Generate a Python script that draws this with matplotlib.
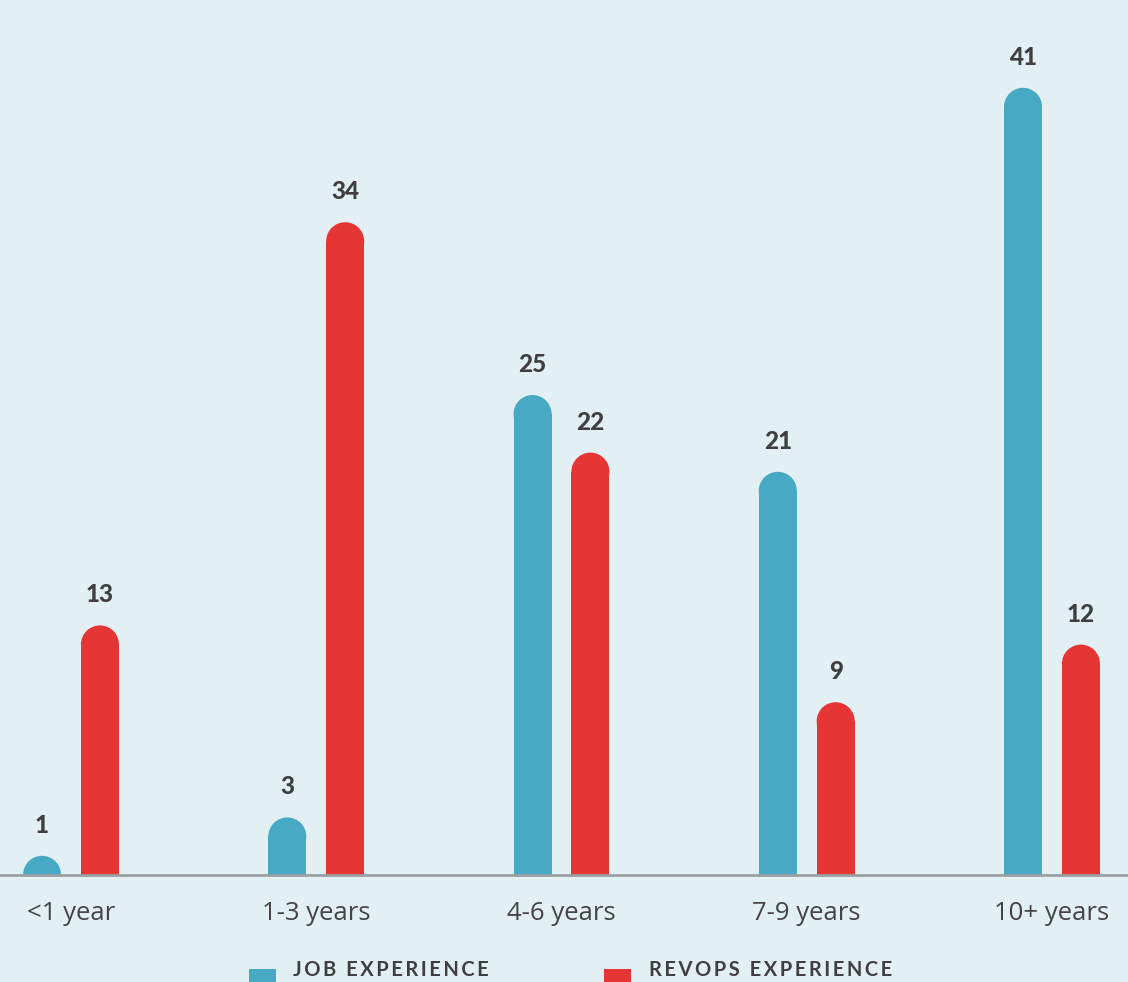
import matplotlib
matplotlib.use('Agg')
import matplotlib.pyplot as plt
from matplotlib.patches import Ellipse, Rectangle
import numpy as np

categories = ['<1 year', '1-3 years', '4-6 years', '7-9 years', '10+ years']
job_exp = [1, 3, 25, 21, 41]
revops_exp = [13, 34, 22, 9, 12]
series_names = ['JOB EXPERIENCE', 'REVOPS EXPERIENCE']

bg = '#e3f0f3'
blue = '#47a9c4'
red = '#e63535'
txt = '#3f3f3f'

W, H = 1128, 982
fig = plt.figure(figsize=(W / 100, H / 100), dpi=100, facecolor=bg)
ax = fig.add_axes([0, 107 / H, 1, 1 - 107 / H])
ax.set_facecolor(bg)

x = np.arange(len(categories))
off = 0.118
bw = 0.155
ax.set_xlim(-0.2895, 4.31)
ymax = 875 / 19.2
ax.set_ylim(0, ymax)

# half the bar width in pixels -> radius of rounded cap, expressed in y data units
ax_h_px = H - 107
r_px = bw / (4.31 + 0.2895) * W / 2
ry = r_px / (ax_h_px / ymax)

for xs, vals, col in [(x - off, job_exp, blue), (x + off, revops_exp, red)]:
    for xi, v in zip(xs, vals):
        base = max(v - ry, 0)
        ax.bar(xi, base, width=bw, color=col, linewidth=0)
        ax.add_patch(Ellipse((xi, base), bw, 2 * ry, facecolor=col, linewidth=0))
        ax.text(xi, v + 19 / 19.2, str(v), ha='center', va='bottom',
                fontsize=17.5, fontweight='black', color=txt, family=['Lato', 'DejaVu Sans'])

ax.axhline(0, color='#9a9fa2', lw=2, clip_on=False, zorder=5)
for s in ax.spines.values():
    s.set_visible(False)
ax.set_xticks([])
ax.set_yticks([])

for xi, c in zip(x, categories):
    ax.text(xi, -38 / 19.2, c, ha='center', va='center', fontsize=18.5,
            color='#444444', family=['Open Sans', 'DejaVu Sans'], clip_on=False)

# legend along the bottom edge
legend_items = [(249, blue, 293), (604, red, 649)]
for (sx, col, tx), name in zip(legend_items, series_names):
    fig.patches.append(Rectangle((sx / W, 0), 27 / W, 13 / H, transform=fig.transFigure,
                                 facecolor=col, linewidth=0))
    fig.text(tx / W, 2 / H, '\u2009'.join(name), ha='left', va='bottom', fontsize=14.5,
             fontweight='bold', color=txt, family=['Lato', 'DejaVu Sans'])

fig.savefig('out.png', dpi=100, facecolor=bg)
